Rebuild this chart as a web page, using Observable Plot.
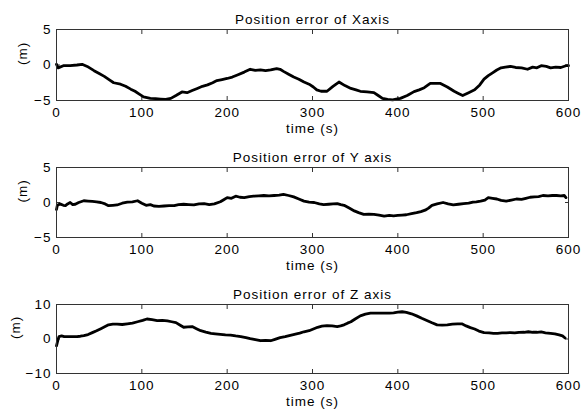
<!DOCTYPE html>
<html>
<head>
<meta charset="utf-8">
<script src="https://cdn.jsdelivr.net/npm/d3@7"></script>
<script src="https://cdn.jsdelivr.net/npm/@observablehq/plot@0.6"></script>
<style>
  html, body { margin: 0; padding: 0; background: #fff; }
  #wrap { width: 581px; height: 415px; position: relative; }
  #wrap svg { display: block; }
  #wrap svg text { letter-spacing: 1px; }
</style>
</head>
<body>
<div id="wrap"></div>
<script>
// ---- data ----
const titles = ["Position error of Xaxis", "Position error of Y axis", "Position error of Z axis"];
const xLabel = "time (s)";
const yLabel = "(m)";
const xTicks = [0, 100, 200, 300, 400, 500, 600];
const yTicksXY = [-5, 0, 5];
const yTicksZ = [-10, 0, 10];

const tX = [0,2,8,16,24,30,36,44,50,56,62,67,75,81,87,92,97,102,110,116,122,128,134,140,147,153,159,165,171,177,183,188,194,200,206,212,220,227,233,239,245,251,258,262,266,272,278,284,290,296,301,305,310,317,324,331,338,345,351,356,364,372,377,382,388,394,398,403,411,419,425,431,438,444,450,458,466,471,476,483,490,496,501,506,511,516,521,526,532,538,545,552,558,563,568,574,579,585,591,597,600];
const vX = [0.1,-0.4,-0.1,-0.1,0.0,0.1,-0.2,-0.8,-1.2,-1.6,-2.1,-2.5,-2.7,-3.0,-3.4,-3.7,-4.1,-4.5,-4.7,-4.75,-4.8,-4.85,-4.7,-4.3,-3.8,-3.9,-3.6,-3.3,-3.0,-2.8,-2.5,-2.2,-2.05,-1.9,-1.7,-1.4,-1.0,-0.6,-0.75,-0.7,-0.8,-0.7,-0.5,-0.6,-0.9,-1.3,-1.7,-2.0,-2.4,-2.7,-3.1,-3.5,-3.7,-3.7,-3.0,-2.4,-2.9,-3.3,-3.5,-3.7,-3.8,-3.9,-4.3,-4.7,-4.85,-4.9,-4.8,-4.7,-4.3,-3.75,-3.5,-3.2,-2.6,-2.6,-2.6,-3.1,-3.7,-4.0,-4.3,-3.9,-3.5,-2.8,-2.0,-1.5,-1.1,-0.7,-0.4,-0.3,-0.2,-0.35,-0.4,-0.6,-0.3,-0.4,-0.1,-0.2,-0.4,-0.3,-0.35,-0.1,-0.1];

const tY = [0,1,4,8,10.5,13,16,19,22,26,32,37,42,47,52,57,61,66,71,77,83,89,95,100,105,110,114,120,126,132,138,143,149,155,161,167,173,179,185,192,196,200,205,210,215,220,226,231,237,243,249,255,261,266,272,278,284,290,296,302,308,313,319,324,329,333,337,343,349,354,360,366,372,378,384,390,395,400,405,410,416,422,427,432,436,440,446,453,459,465,471,477,483,488,492,497,502,506,511,516,521,527,533,539,545,550,555,560,565,570,576,581,586,591,595,597];
const vY = [-1.0,-0.4,-0.2,-0.4,-0.45,-0.2,0.0,-0.3,-0.25,0.0,0.25,0.2,0.15,0.1,0.0,-0.2,-0.45,-0.4,-0.35,-0.1,0.05,0.1,0.25,-0.1,-0.4,-0.3,-0.5,-0.55,-0.5,-0.45,-0.45,-0.3,-0.25,-0.3,-0.35,-0.2,-0.15,-0.3,-0.2,0.1,0.4,0.7,0.6,0.9,0.75,0.7,0.85,0.9,0.95,1.0,0.95,1.0,1.05,1.15,1.0,0.8,0.5,0.2,0.05,0.0,-0.2,-0.3,-0.25,-0.2,-0.15,-0.3,-0.4,-0.8,-1.2,-1.45,-1.7,-1.65,-1.7,-1.8,-1.95,-1.85,-1.9,-1.85,-1.8,-1.75,-1.6,-1.45,-1.3,-1.1,-0.8,-0.4,-0.2,0.0,-0.2,-0.35,-0.25,-0.15,-0.1,0.05,0.1,0.2,0.35,0.7,0.6,0.5,0.3,0.2,0.35,0.5,0.45,0.6,0.75,0.8,0.85,1.0,0.95,1.0,1.0,0.95,1.0,0.7];

const tZ = [0,1,2,3,6,9,16,24,28,32,37,42,47,52,57,61,66,71,77,83,89,95,101,106,112,118,124,130,135,140,145,149,154,159,164,169,175,181,186,192,198,204,210,216,222,227,233,239,245,251,256,262,268,274,280,285,290,296,301,306,311,317,323,329,333,337,341,345,350,356,362,368,375,383,390,395,400,405,410,416,422,428,434,440,446,452,458,464,470,475,480,485,490,495,501,507,512,517,522,527,532,537,542,548,553,558,563,568,573,579,584,589,593,596];
const vZ = [-2.0,-1.0,0.0,0.7,0.9,0.7,0.7,0.7,0.8,1.0,1.3,1.85,2.4,3.0,3.6,4.1,4.3,4.3,4.2,4.4,4.6,5.0,5.4,5.8,5.6,5.35,5.4,5.25,5.0,4.75,4.0,3.4,3.5,3.6,3.0,2.4,2.0,1.65,1.5,1.35,1.2,1.15,0.9,0.7,0.4,0.1,-0.2,-0.5,-0.4,-0.5,-0.1,0.4,0.7,1.05,1.4,1.7,2.1,2.4,2.9,3.4,3.7,3.9,3.8,3.6,3.8,4.1,4.6,5.0,5.8,6.7,7.2,7.5,7.5,7.5,7.5,7.6,7.8,7.9,7.7,7.3,6.7,6.0,5.35,4.7,4.1,4.0,4.1,4.3,4.4,4.4,3.8,3.3,2.9,2.3,1.85,1.8,1.65,1.65,1.75,1.8,1.85,1.75,1.9,1.95,2.1,1.95,1.95,2.05,1.8,1.65,1.5,1.2,0.9,0.3];

// ---- build ----
const font = "'Liberation Sans', Arial, sans-serif";
const panels = [
  {t: tX, v: vX, title: titles[0], yTicks: yTicksXY, height: 137, mt: 29, mb: 37},
  {t: tY, v: vY, title: titles[1], yTicks: yTicksXY, height: 137, mt: 30, mb: 37},
  {t: tZ, v: vZ, title: titles[2], yTicks: yTicksZ, height: 141, mt: 30, mb: 42}
];

const wrap = document.getElementById("wrap");
for (const p of panels) {
  const rows = p.t.map((t, i) => ({t, v: p.v[i]}));
  const yd = [p.yTicks[0], p.yTicks[p.yTicks.length - 1]];
  const chart = Plot.plot({
    width: 581,
    height: p.height,
    marginLeft: 56,
    marginRight: 13,
    marginTop: p.mt,
    marginBottom: p.mb,
    style: {fontFamily: font, fontSize: "13.5px", color: "#000", background: "#fff", overflow: "visible"},
    x: {domain: [0, 600], label: null},
    y: {domain: yd, label: null},
    marks: [
      Plot.axisX({ticks: xTicks, anchor: "bottom", tickSize: -4, tickPadding: 11, label: null, stroke: "#333", fill: "#000"}),
      Plot.axisX({ticks: xTicks, anchor: "top", tickSize: -4, tickFormat: () => "", label: null, stroke: "#333"}),
      Plot.axisY({ticks: p.yTicks, anchor: "left", tickSize: -4, tickPadding: 9, label: null, stroke: "#333", fill: "#000"}),
      Plot.axisY({ticks: p.yTicks, anchor: "right", tickSize: -4, tickFormat: () => "", label: null, stroke: "#333"}),
      Plot.line(rows, {x: "t", y: "v", stroke: "#000", strokeWidth: 2.8}),
      Plot.frame({stroke: "#333", strokeWidth: 1}),
      Plot.text([p.title], {text: d => d, frameAnchor: "top", dy: -15, fill: "#000", fontSize: 13.5}),
      Plot.text([xLabel], {text: d => d, frameAnchor: "bottom", dy: 32, fill: "#000", fontSize: 13.5}),
      Plot.text([yLabel], {text: d => d, frameAnchor: "left", rotate: -90, dx: p.yTicks[0] === -10 ? -41 : -34, fill: "#000", fontSize: 13.5})
    ]
  });
  wrap.appendChild(chart);
}
</script>
</body>
</html>
